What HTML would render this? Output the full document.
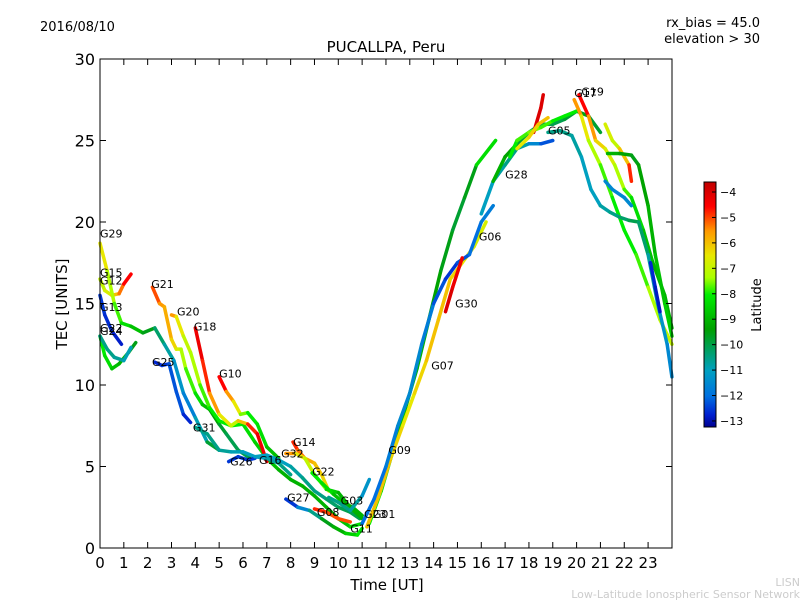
<!DOCTYPE html>
<html><head><meta charset="utf-8"><style>
body{margin:0;background:#fff;}
svg{display:block;font-family:"DejaVu Sans","Liberation Sans",sans-serif;}
</style></head><body>
<svg id="c" width="800" height="600" viewBox="0 0 800 600">
<defs>
<linearGradient id="cmap" x1="0" y1="1" x2="0" y2="0">
<stop offset="0" stop-color="#000090"/>
<stop offset="0.05" stop-color="#0020d0"/>
<stop offset="0.125" stop-color="#0070e0"/>
<stop offset="0.23" stop-color="#00a0c0"/>
<stop offset="0.3" stop-color="#00a070"/>
<stop offset="0.4" stop-color="#00a000"/>
<stop offset="0.54" stop-color="#00ee00"/>
<stop offset="0.61" stop-color="#aaff00"/>
<stop offset="0.7" stop-color="#e8e800"/>
<stop offset="0.8" stop-color="#ff9900"/>
<stop offset="0.9" stop-color="#ff0000"/>
<stop offset="1" stop-color="#c00000"/>
</linearGradient>
</defs>
<text x="40" y="31" font-size="13">2016/08/10</text>
<text x="760" y="27" font-size="13" text-anchor="end">rx_bias = 45.0</text>
<text x="760" y="43" font-size="13" text-anchor="end">elevation &gt; 30</text>
<text x="386" y="52" font-size="15" text-anchor="middle">PUCALLPA, Peru</text>
<text x="387" y="590" font-size="15" text-anchor="middle">Time [UT]</text>
<text transform="translate(67,304) rotate(-90)" font-size="15" text-anchor="middle">TEC [UNITS]</text>
<text x="800" y="586" font-size="11" fill="#ccc" text-anchor="end">LISN</text>
<text x="800" y="598" font-size="11" fill="#ccc" text-anchor="end">Low-Latitude Ionospheric Sensor Network</text>
<g id="tracks"></g>
<g id="labels"></g>
<rect x="100" y="59" width="572" height="489" fill="none" stroke="#000" stroke-width="1"/>
<g id="axes"></g>
<rect x="704" y="182" width="12" height="245" fill="url(#cmap)" stroke="#000" stroke-width="1"/>
<g id="cbticks"></g>
<text transform="translate(761,305) rotate(-90)" font-size="13" text-anchor="middle">Latitude</text>
</svg>
<script>
const xTicks=[0,1,2,3,4,5,6,7,8,9,10,11,12,13,14,15,16,17,18,19,20,21,22,23];
const yTicks=[0,5,10,15,20,25,30];
const cbTicks=[-4,-5,-6,-7,-8,-9,-10,-11,-12,-13];
// tracks: times, tec values, latitudes
const trkNames=["G15","G13","G24","G22","G29","G21","G20","G18","G10","G25","G31","G26","G16","G14","G32","G22b","G03","G27","G08","G09","G07","G01","G30","G28","G06","G05top","G05red","G05y","G17","G19","G05","G23r","G23g","G23b","G23c"];
const trkT=[
[0,0.2,0.5,0.8,1.0,1.3],
[0,0.2,0.5,0.9],
[0,0.2,0.5,0.8,1.2,1.5],
[0,0.3,0.6,1.0,1.3],
[0,0.3,0.6,0.9,1.3,1.8,2.3,2.7,3.1,3.5,4.0,4.5,5.0],
[2.2,2.5,2.7,3.0,3.2,3.4,3.6,4.0,4.3,4.6,5.0,5.3,5.8,6.3],
[3.0,3.2,3.5,3.8,4.2,4.6,5.0,5.5,6.0,6.5,7,7.5,8,8.5,9,9.5,10,10.5,11],
[4.0,4.3,4.6,5.0,5.5,5.8,6.2,6.6,7.0],
[5,5.3,5.6,5.9,6.2,6.6,7.0,7.5],
[2.3,2.6,2.9,3.2,3.5,3.8],
[4.0,4.5,5.0,5.5,6,6.5,7,7.5,8],
[5.4,5.8,6.2,6.5],
[6.5,7,7.5,8,8.5,9,9.5,10,10.5,10.9],
[8.1,8.3,8.6,9,9.3,9.6],
[7.8,8.2,8.6,9,9.5,10,10.5,11],
[8.9,9.3,9.8,10.2,10.6,11],
[9.6,10,10.5,11,11.3],
[7.8,8.3,8.8,9.3,9.8,10.3,10.8,11],
[9,9.5,10,10.5],
[11.3,11.8,12.3,12.8,13.3,13.8,14.3,14.8,15.3,15.8,16.6],
[11.2,11.7,12.2,12.7,13.2,13.7,14.2,14.7,15.2,15.7,16.2],
[11,11.5,12,12.5,13,13.5,14,14.5,15,15.5,16,16.5],
[14.5,14.8,15.2],
[16,16.5,17,17.5,18,18.5,19],
[16.5,17,17.5,18,18.5,19,19.5,20,20.5,21],
[17.2,17.5,18,18.5,19,19.5,20],
[18.2,18.5,18.6],
[17.5,18,18.4,18.8],
[19.9,20.2,20.5,21,21.5,22,22.5,23,23.5,24],
[20.1,20.5,20.8,21.2,21.6,22,22.3,22.8,23.2,23.7,24],
[18.8,19.3,19.8,20.2,20.6,21,21.4,21.8,22.2,22.6,23,23.4,23.8,24],
[21.2,21.5,21.8,22.2,22.3],
[21.3,21.8,22.3,22.6,23,23.3,23.7,24],
[21.2,21.5,22,22.3],
[23.1,23.3,23.5]
];
const trkV=[
[16.5,15.8,15.5,15.6,16.2,16.8],
[15.5,14.3,13.3,12.5],
[13,11.8,11,11.3,12,12.6],
[13,12.2,11.7,11.5,12.3],
[18.7,17,15,13.8,13.6,13.2,13.5,12.5,11.5,9.5,8,6.5,6],
[16,15,14.8,12.8,12.2,12.2,11,9.5,8.8,8.5,7.6,7,6,5.5],
[14.3,14.2,13,12,10,8.6,7.8,7.5,7.6,6.5,5.5,4.8,4.2,3.8,3.2,2.5,1.8,1.3,1.5],
[13.5,11.5,9.5,8.2,7.5,7.8,7.6,7.0,5.3],
[10.5,9.6,9.0,8.2,8.3,7.6,6.2,5.5],
[11.4,11.2,11.3,9.6,8.2,7.7],
[7.4,7,6,5.9,5.9,5.6,5.5,5.2,4.5],
[5.3,5.6,5.4,5.5],
[5.6,5.7,5.4,5,4.3,3.5,3,2.5,2.2,1.8],
[6.5,6,5.5,5.2,4.5,3.5],
[5.8,5.8,5.5,4.5,3.6,3.4,2.5,1.8],
[4.6,4.0,3.3,2.8,2.5,2.0],
[3.1,2.8,2.3,3.2,4.2],
[3,2.5,2.3,1.8,1.3,0.9,0.8,1.2],
[2.4,2.2,1.8,1.6],
[1.5,3.5,6,8.5,11,14,17,19.5,21.5,23.5,25],
[1.3,3.2,5.5,7.5,9.5,11.5,14,16.5,17.5,18.5,20],
[1.5,3,5,7.5,9.5,12.5,15,16.5,17.5,18,20,21],
[14.5,16,17.8],
[20.5,22.5,23.5,24.5,24.8,24.8,25],
[22.5,24,24.8,25.5,26,26,26.3,26.8,26.5,25.5],
[24,25,25.5,25.8,26.2,26.5,26.8],
[25.5,27,27.8],
[24.5,25.2,26,26.4],
[27.5,26.5,25,23.5,21.5,19.5,18,16,14,12.5],
[27.8,26.5,25,24.5,23.5,22,21.5,19.5,17.5,15.5,13.5],
[25.5,25.6,25.3,24,22,21,20.6,20.3,20.1,20,18,15,12.5,10.5],
[26,25,24.5,23.5,22.5],
[24.2,24.2,24.1,23.5,21,18,15,13],
[22.5,22,21.5,21],
[17.5,16,14.5]
];
const trkL=[
[-7,-7,-6.5,-5.5,-5,-4],
[-12.5,-12.5,-12.7,-12.8],
[-8,-8,-8.5,-9,-9,-10],
[-10.5,-10.5,-10.5,-10.8,-11],
[-6,-7,-7.5,-8,-8.5,-9,-10,-10.5,-11,-11.5,-11.8,-10,-9.5],
[-4.5,-5.5,-5.5,-6,-6.5,-7,-7.5,-8,-8.5,-9,-9.5,-10,-10,-10],
[-5,-6,-7,-7,-7.5,-8,-8,-8,-8,-8.5,-8.5,-9,-9,-9,-9,-9,-9,-8.5,-8],
[-4,-4.5,-5,-6,-7,-7,-5,-4.5,-4],
[-4,-5,-6,-7,-8,-8,-8.5,-9],
[-12.8,-12.5,-12.5,-12,-12.5,-12.8],
[-10.5,-10.5,-10.5,-10.8,-11,-11,-11,-10.5,-10.5],
[-12.5,-12.5,-12.5,-12.5],
[-11,-11,-11,-11,-10.5,-10.5,-10.5,-10,-10,-10],
[-4.5,-5,-5.5,-6,-6,-6.5],
[-5,-6,-7,-7,-8,-9,-9,-9],
[-8,-8,-8.5,-9,-9,-9],
[-10.5,-10.5,-10.5,-11,-11.5],
[-13,-12,-11,-10,-9,-9,-8,-8],
[-4.5,-5,-5,-5],
[-8,-8,-8.5,-9,-9,-9,-9.5,-9.5,-10,-9,-7.5],
[-6,-6,-6,-6.5,-6.5,-6,-6,-6,-6.5,-6.5,-7],
[-12,-12,-12,-11.5,-11.5,-11.5,-12,-12.5,-12.5,-12,-12,-11.5],
[-4,-4,-4.5],
[-11,-11,-10.5,-10.5,-11,-12,-12.5],
[-9,-9,-9.5,-10,-10,-10,-10,-9.5,-9.5,-10],
[-8,-8,-7.5,-7.5,-8,-8,-8],
[-4,-4,-4],
[-6.5,-6.5,-6,-6],
[-5,-6,-7,-7.5,-8,-8,-8,-7.5,-7,-7],
[-4,-5,-6,-6.5,-7,-7.5,-8,-8.5,-9,-9,-9],
[-10.5,-10.5,-10.5,-11,-11,-11,-10.5,-10.5,-10,-10,-10.5,-11,-11.5,-11.5],
[-6.5,-7,-7,-5,-4.5],
[-9,-9,-9.5,-9.5,-9,-9,-8.5,-8.5],
[-11.5,-11.5,-11.5,-11.5],
[-12.5,-12.8,-12.8]
];
const lblNames=["G29","G15","G12","G13","G22","G24","G21","G20","G18","G10","G25","G31","G26","G16","G14","G32","G22","G27","G08","G03","G11","G23","G01","G09","G07","G30","G06","G28","G05","G17","G19"];
const lblT=[0,0,0,0,0,0,2.15,3.23,3.94,5.0,2.18,3.9,5.46,6.67,8.1,7.6,8.9,7.85,9.1,10.1,10.5,11.08,11.45,12.1,13.9,14.9,15.9,17.0,18.8,19.9,20.2];
const lblV=[19.3,16.9,16.4,14.8,13.5,13.3,16.2,14.5,13.6,10.7,11.4,7.4,5.3,5.4,6.5,5.8,4.7,3.1,2.2,2.9,1.2,2.1,2.1,6.0,11.2,15,19.1,22.9,25.6,27.9,28.0];

const NS="http://www.w3.org/2000/svg";
const X=t=>100+t*23.83, Y=v=>548-v*16.3;
const stops=[[-13.2,[0,0,144]],[-12.7,[0,32,208]],[-12,[0,112,224]],[-11,[0,160,192]],[-10.3,[0,160,112]],[-9.3,[0,160,0]],[-8,[0,238,0]],[-7.3,[170,255,0]],[-6.5,[232,232,0]],[-5.5,[255,153,0]],[-4.5,[255,0,0]],[-3.6,[192,0,0]]];
function col(l){
  if(l<=stops[0][0])return'rgb(0,0,144)';
  for(let i=1;i<stops.length;i++){if(l<=stops[i][0]){const a=stops[i-1],b=stops[i],f=(l-a[0])/(b[0]-a[0]);return'rgb('+a[1].map((c,k)=>Math.round(c+(b[1][k]-c)*f)).join(',')+')';}}
  return'rgb(192,0,0)';
}
const tg=document.getElementById('tracks');
trkT.forEach((ts,i)=>{
  const g=document.createElementNS(NS,'g');
  
  
  for(let j=0;j<ts.length-1;j++){
    const ln=document.createElementNS(NS,'line');
    ln.setAttribute('x1',X(ts[j]));ln.setAttribute('y1',Y(trkV[i][j]));
    ln.setAttribute('x2',X(ts[j+1]));ln.setAttribute('y2',Y(trkV[i][j+1]));
    ln.setAttribute('stroke',col((trkL[i][j]+trkL[i][j+1])/2));
    ln.setAttribute('stroke-width','3.5');ln.setAttribute('stroke-linecap','round');
    
    
    g.appendChild(ln);
  }
  tg.appendChild(g);
});
const lg=document.getElementById('labels');
lblNames.forEach((n,i)=>{
  const t=document.createElementNS(NS,'text');
  t.setAttribute('x',X(lblT[i]));t.setAttribute('y',Y(lblV[i])+4);
  t.setAttribute('font-size','11');t.textContent=n;
  
  
  lg.appendChild(t);
});
const ax=document.getElementById('axes');
function add(tag,attrs,txt,name){const e=document.createElementNS(NS,tag);for(const k in attrs)e.setAttribute(k,attrs[k]);if(txt!==undefined)e.textContent=txt;
  
  
  return e;}
xTicks.forEach(t=>{
  const x=X(t);
  ax.appendChild(add('line',{x1:x,y1:548,x2:x,y2:542,stroke:'#000'},undefined,'x-tick'));
  ax.appendChild(add('line',{x1:x,y1:59,x2:x,y2:65,stroke:'#000'},undefined,'x-tick-top'));
  ax.appendChild(add('text',{x:x,y:568,'font-size':'15','text-anchor':'middle'},t,'x-tick-label'));
});
yTicks.forEach(v=>{
  const y=Y(v);
  ax.appendChild(add('line',{x1:100,y1:y,x2:106,y2:y,stroke:'#000'},undefined,'y-tick'));
  ax.appendChild(add('line',{x1:672,y1:y,x2:666,y2:y,stroke:'#000'},undefined,'y-tick-right'));
  ax.appendChild(add('text',{x:95,y:y+6,'font-size':'16','text-anchor':'end'},v,'y-tick-label'));
});
const cb=document.getElementById('cbticks');
cbTicks.forEach(l=>{
  const y=192+(-4-l)*25.44;
  cb.appendChild(add('line',{x1:712,y1:y,x2:716,y2:y,stroke:'#000'},undefined,'colorbar-tick'));
  cb.appendChild(add('text',{x:720,y:y+4,'font-size':'11'},'\u2212'+Math.abs(l),'colorbar-tick-label'));
});
</script>
</body></html>
